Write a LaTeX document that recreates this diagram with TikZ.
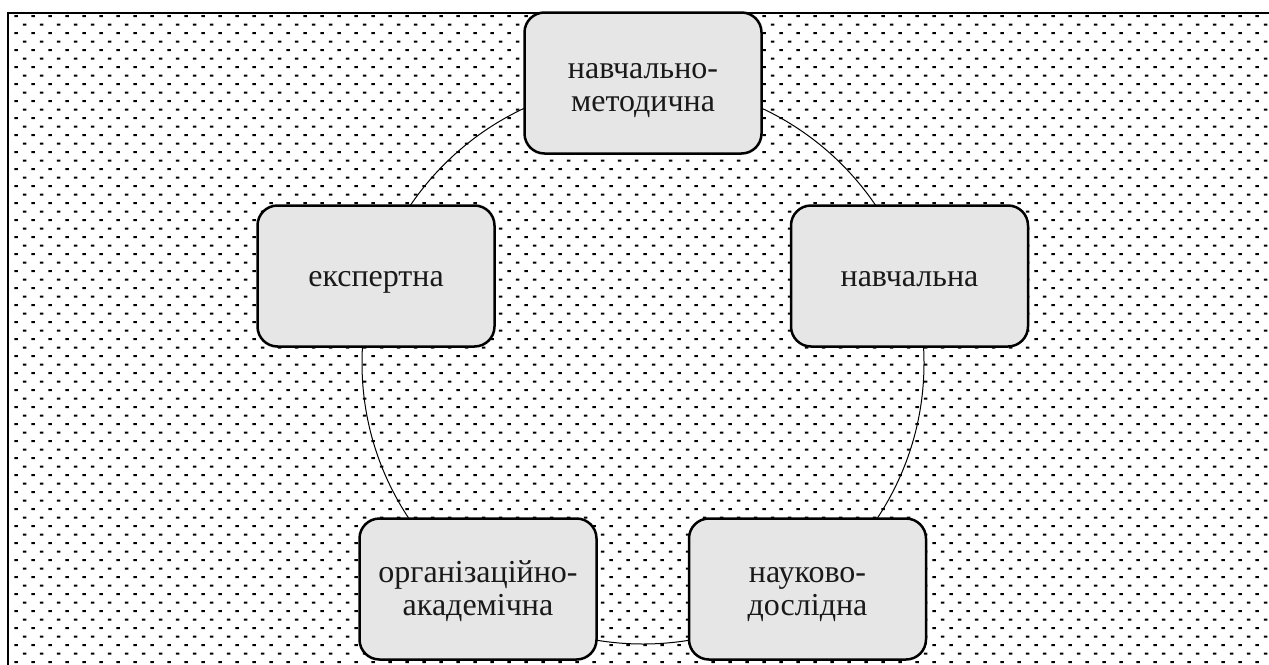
\documentclass[tikz,border=0pt]{standalone}
\usepackage{fontspec}
\setmainfont{Liberation Serif}
\newcommand{\mytwo}[2]{\begin{tabular}[t]{@{}c@{}}#1\\#2\end{tabular}}
\begin{document}
\begin{tikzpicture}[x=1pt,y=-1pt,
  box/.style={draw=black, line width=2.5pt, fill=boxgray, rounded corners=20pt,
    minimum width=237pt, minimum height=141pt, inner sep=0pt},
  lbl/.style={anchor=base, inner sep=0pt, font=\fontsize{32}{33.5}\selectfont, text=black!90},
  ring/.style={draw=black, line width=1pt}]
\definecolor{boxgray}{RGB}{230,230,230}
\useasboundingbox (0,0) rectangle (1269,664);
\fill[white] (0,0) rectangle (1269,664);
% dotted background
\begin{scope}
\clip (8,13) rectangle (1269,664);
\fill[black] \foreach \i in {0,...,74}{ \foreach \j in {0,...,38}{
  ({16+17*\i-1.75},{16+17*\j-1}) rectangle ++(3.5,2)
  ({24.5+17*\i-1.75},{24.5+17*\j-1}) rectangle ++(3.5,2) } };
\end{scope}
% frame
\draw[line width=2pt] (7.5,670) -- (7.5,13) -- (1275,13);
% ring
\coordinate (c) at (643,363);
\draw[ring] (c) circle (281);
% boxes
\node[box] (nm) at (643,83) {};
\node[box] (ek) at (376,276) {};
\node[box] (nv) at (909.5,276) {};
\node[box] (oa) at (478,589) {};
\node[box] (nd) at (807.5,589) {};
% texts
\node[lbl] (nmt) at ([yshift=5pt]nm.center) {\mytwo{навчально-}{методична}};
\node[lbl] (ekt) at ([yshift=-10.7pt]ek.center) {експертна};
\node[lbl] (nvt) at ([yshift=-10.7pt]nv.center) {навчальна};
\node[lbl] (oat) at ([yshift=7pt]oa.center) {\mytwo{організаційно-}{академічна}};
\node[lbl] (ndt) at ([yshift=7pt]nd.center) {\mytwo{науково-}{дослідна}};
\end{tikzpicture}
\end{document}
